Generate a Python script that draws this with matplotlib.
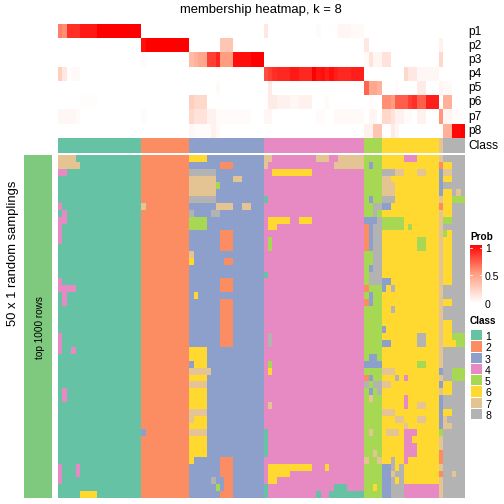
"""Membership heatmap, k = 8, with class annotation and random samplings."""

import matplotlib
matplotlib.use("Agg")
import matplotlib.pyplot as plt
import numpy as np
from matplotlib.colors import LinearSegmentedColormap, ListedColormap
from matplotlib.patches import Rectangle

plt.rcParams["font.family"] = ["Liberation Sans", "DejaVu Sans"]

W = 504
CLASS_COLORS = ["#66C2A5", "#FC8D62", "#8DA0CB", "#E78AC3",
                "#A6D854", "#FFD92F", "#E5C494", "#B3B3B3"]
CLASS_LABELS = ["1", "2", "3", "4", "5", "6", "7", "8"]
ROW_LABELS = ["p1", "p2", "p3", "p4", "p5", "p6", "p7", "p8"]
PROB_TICKS = [0, 0.5, 1]

# class of each column, same groups as the rows below
CLASS_ROW = ("1111111111111111111 22222222222 33333333333333333 "
             "44444444444444444444444 5555 6666666666666 7 88888")

# ── Membership probabilities, one list per row (columns grouped by class) ────
P1 = [.6, .55, .85, .85, .85, .92, .92, .92, .92, 1, 1, 1, 1, 1, 1, 1, 1, 1, 1,
      0, 0, 0, 0, 0, 0, 0, 0, 0, 0, 0,
      0, 0, 0, 0, 0, 0, 0, 0, 0, 0, 0, 0, 0, 0, 0, 0, 0,
      .12, 0, 0, 0, 0, 0, 0, 0, 0, 0, 0, 0, .02, 0, 0, .01, .01, .05, .05, .05, .03, .03, .03,
      0, 0, 0, 0,
      0, 0, 0, 0, 0, 0, 0, 0, 0, 0, 0, 0, 0,
      0,
      0, 0, 0, 0, 0]
P2 = [0, 0, 0, 0, 0, 0, 0, 0, 0, 0, 0, 0, 0, 0, 0, 0, 0, 0, 0,
      .95, 1, 1, 1, 1, 1, 1, 1, 1, 1, 1,
      0, 0, 0, 0, 0, 0, 0, .3, .3, .3, 0, 0, 0, 0, 0, 0, 0,
      0, 0, 0, 0, 0, 0, 0, 0, 0, 0, 0, 0, 0, 0, 0, 0, 0, 0, 0, 0, 0, 0, 0,
      .12, 0, 0, 0,
      0, 0, 0, 0, 0, 0, 0, 0, 0, 0, 0, 0, 0,
      .07,
      0, 0, 0, 0, 0]
P3 = [0, 0, 0, 0, 0, 0, 0, 0, 0, 0, 0, 0, 0, 0, 0, 0, 0, 0, 0,
      .02, 0, 0, 0, 0, 0, 0, 0, 0, 0, 0,
      .35, .4, .45, .45, .8, .8, .88, .5, .5, .5, .95, .95, .95, .95, 1, 1, 1,
      0, 0, 0, 0, 0, 0, 0, 0, 0, 0, 0, 0, 0, 0, 0, 0, 0, 0, 0, 0, 0, 0, 0,
      .03, .15, .05, .05,
      .15, .15, 0, 0, 0, 0, 0, 0, 0, 0, 0, 0, 0,
      .2,
      0, 0, 0, 0, 0]
P4 = [.25, .12, .01, .03, .03, 0, 0, 0, 0, 0, 0, 0, 0, 0, 0, 0, 0, 0, 0,
      0, 0, 0, 0, 0, 0, 0, 0, 0, 0, 0,
      0, 0, 0, 0, 0, 0, 0, 0, 0, 0, 0, 0, 0, 0, 0, 0, 0,
      .75, .8, .85, .87, .87, .87, .92, .92, .87, .87, .87, 1, .93, .95, .9, .95, .9, .87, .87, .87, .9, .9, .9,
      0, 0, 0, 0,
      0, 0, 0, 0, 0, .2, .12, .12, .04, .04, .04, .04, .04,
      0,
      0, 0, 0, 0, 0]
P5 = [0, 0, 0, 0, 0, 0, 0, 0, 0, 0, 0, 0, 0, 0, 0, 0, 0, 0, 0,
      0, 0, 0, 0, 0, 0, 0, 0, 0, 0, 0,
      0, 0, 0, 0, 0, 0, .03, 0, 0, 0, 0, 0, 0, 0, 0, 0, 0,
      0, .1, 0, 0, 0, 0, 0, 0, 0, 0, 0, 0, 0, 0, 0, 0, 0, 0, 0, 0, 0, 0, 0,
      .68, .45, .45, .4,
      0, 0, 0, .02, 0, 0, 0, 0, .1, .1, 0, 0, 0,
      .05,
      .03, .03, 0, 0, 0]
P6 = [0, 0, 0, 0, 0, .015, .015, .015, .015, 0, 0, 0, 0, 0, 0, 0, 0, 0, 0,
      0, 0, 0, 0, 0, 0, 0, 0, 0, 0, 0,
      .25, .2, .2, .2, 0, 0, 0, 0, 0, 0, 0, 0, 0, 0, 0, 0, 0,
      .01, .1, .1, .07, .07, .07, .04, .04, .07, .07, .07, 0, 0, 0, .03, 0, 0, 0, 0, 0, 0, 0, 0,
      0, .02, .01, 0,
      .55, .55, .5, .7, .7, .7, .8, .85, .7, .7, .9, .9, .9,
      0,
      .4, .4, 0, 0, 0]
P7 = [.04, .04, .04, .04, .02, 0, 0, 0, 0, 0, 0, 0, 0, 0, 0, 0, 0, 0, 0,
      .02, 0, 0, 0, 0, 0, 0, 0, 0, 0, 0,
      .2, .15, .15, .15, .07, .07, .02, .02, .02, .02, .02, .02, .02, .02, 0, 0, 0,
      .04, .04, 0, 0, 0, 0, 0, 0, 0, 0, 0, 0, .02, .02, 0, 0, .03, .03, .03, .03, .03, .03, .03,
      0, .05, .05, 0,
      .2, .2, .15, .07, .07, .02, .02, 0, .07, .07, 0, 0, 0,
      .52,
      .05, .05, .02, .02, 0]
P8 = [0, 0, 0, 0, 0, 0, 0, 0, 0, 0, 0, 0, 0, 0, 0, 0, 0, 0, 0,
      0, 0, 0, 0, 0, 0, 0, 0, 0, 0, 0,
      .04, .02, .02, .02, .02, .07, .03, 0, 0, 0, 0, 0, 0, 0, 0, 0, 0,
      0, 0, 0, 0, 0, 0, 0, 0, 0, 0, 0, 0, 0, 0, 0, 0, 0, 0, 0, 0, 0, 0, 0,
      .07, .07, .3, .3,
      .01, .01, .1, .05, 0, 0, 0, 0, 0, 0, 0, 0, 0,
      0,
      .4, .4, .97, .97, 1]

# ── Class of each sampling (50 rows), columns grouped by class ───────────────
SAMPLINGS = [
    "7777111111111111111 22222222222 66663333333333333 77444444444477744777777 5555 6666644466666 7 88888",
    "7777711111111111111 22222222222 33333332223333333 74444444444444447777777 5355 6666666666666 2 66888",
    "4411111111111111111 22222222222 88888833333333333 44666666666444444444444 5555 8887766677666 3 77888",
    "1111111111111111111 22222222222 77777733337733333 44444444444444444444444 5555 7766666666666 3 66888",
    "1111111111111111111 22222222222 77777753333333333 44444444444444444444444 5555 7776666666666 3 88888",
    "1111111111111111111 22222222222 77777733333333333 44444444444444444444444 5555 7776666666666 3 66878",
    "1111111111111111111 22222222222 88888833333333333 14444444444444444444444 5355 8886666666666 7 66555",
    "4111111111111111111 72222222222 33333377773377333 44444444444444444444444 5588 3366666666666 2 66888",
    "1411111111111111111 22222222222 83333883333333333 44444444444444444444444 5585 6666666666666 7 66888",
    "4411111111111111111 22222222222 55553333333333333 46666644666444444444444 3338 5555566666666 7 55888",
    "4111111111111111111 22222222222 55553333333333333 46644444444444444444444 2388 5555565666666 7 88888",
    "4111111111111111111 22222222222 33333332223333333 44444444444444444444444 2388 6666666666666 7 56888",
    "4111111111111111111 22222222222 33333332223333333 45444444444444444444444 2388 6666666655666 7 66888",
    "1111111111111111111 22222222222 33333332223333333 45444444444444444444444 2388 6666666655666 7 66888",
    "1111111111111111111 22222222222 73333333333333333 44444444444444444444444 5588 6666666666666 7 66888",
    "1111111111111111111 22222222222 63333333223333333 44444444444444444444444 5588 6666666666666 7 66888",
    "1111111111111111111 22222222222 33333333333333333 44444444444444444444444 5388 6666666666666 7 66888",
    "1111111111111111111 22222222222 33333333333333333 14444444444444444444444 5888 6666666666666 7 66888",
    "4111111111111111111 22222222222 33333332223333333 44444444444444444444444 5888 3366666666666 7 66888",
    "4444111111111111111 22222222222 33333332223333333 44444444444444444444444 2555 3686666666666 7 88888",
    "1411111111111111111 22222222222 36333333333333333 44444444444444444444444 5355 6666666666666 7 88888",
    "1411111111111111111 22222222222 33333332223333333 44444444444444444444444 2355 6666666666666 7 66888",
    "1111111111111111111 22222222222 33333332223333333 44444444444444444444444 5555 6686666666666 7 88888",
    "1111111111111111111 22222222222 33333332223333333 44444444444444444444444 5555 6666666666666 7 88888",
    "1111111111111111111 22222222222 33333332223333333 44444444444444444444444 5555 6666666666666 7 66888",
    "1111111111111111111 22222222222 33333332223333333 44444444444444444444444 5555 3666666666666 7 66888",
    "4111111111111111111 22222222222 33333332223333333 48444444444444444444444 5555 6666666688666 7 66555",
    "4111111111111111111 22222222222 33333332223333333 48444444444444444444444 5555 3366666688666 7 66655",
    "4114111111111111111 22222222222 66663333333333333 44444444444444444444444 5555 6666666666666 7 88888",
    "1111111111111111111 22222222222 66663333333333333 44444444444444444444444 5335 6666666666666 7 88888",
    "1111111111111111111 22222222222 36663333333333333 45444444444444444444444 3333 6666666655666 7 88888",
    "1111111111111111111 22222222222 77777333333333333 46444444444444444444444 5555 7776666666666 3 88555",
    "1111111111111111111 22222222222 66663333333333333 44444444444444444444444 2355 6668646666666 7 88555",
    "1111111111111111111 22222222222 77773333333333333 44444444444444444444444 8588 7766666666666 3 66888",
    "1411111111111111111 22222222222 66663333333333333 44444444444444444444444 5358 6666666666666 7 66888",
    "1411111111111111111 22222222222 66663333333333333 44444444444444444444444 5755 6666646666666 3 88888",
    "1111111111111111111 22222222222 66663333333333333 47444444444444444444444 5555 6666646677666 3 88888",
    "1111111111111111111 22222222222 77773333333333333 44444444444444444444444 5555 7776666666666 3 66888",
    "1111111111111111111 22222222222 76663333333333333 44444444444444444444444 5555 6667766677666 3 78888",
    "1111111111111111111 22222222222 66663333333333333 44444444444444444444444 5555 6666676666666 3 77888",
    "1111111111111111111 32222222222 77773333333333333 14444444444444444444444 5755 6777644466666 5 88888",
    "1111111111111111111 22222222222 66663333333333333 14444444444444444444444 5555 6666644666666 7 88888",
    "1111111111111111111 22222222222 66663333333333333 14444444444444444444444 5555 6666644466666 7 88888",
    "1111111111111111111 22222222222 66663333333333333 14444444444444444444444 5575 6666644466666 2 88888",
    "1111111111111111111 22222222222 63333332223333333 44444444444444444444444 7557 6686646666666 2 88888",
    "4111411111111111111 22222222222 33333332223333333 46666666666444644444444 5555 3386866666666 7 88888",
    "4111411111111111111 22222222222 33333332223333333 46666644444444444444444 5555 3378866666666 2 88788",
    "4111111111111111111 22222222222 33333833223333333 46644444444444444444444 5555 3386866666666 7 88888",
    "1111111111111111111 22222222222 33333353223333333 14444444444444441114444 5565 3388844444444 7 88888",
    "1111166661111111111 22222222222 33333332223333333 14444444444414411111111 5555 3388844444444 7 88888",
]


def digits(row):
    return [int(ch) - 1 for ch in row.replace(" ", "")]


def px_axes(x0, y0, x1, y1):
    # axes from pixel box, y counted from the top of the picture
    return fig.add_axes([x0 / W, 1 - y1 / W, (x1 - x0) / W, (y1 - y0) / W])


class_cmap = ListedColormap(CLASS_COLORS)
prob_cmap = LinearSegmentedColormap.from_list("prob", ["#FFFFFF", "#FF9E81", "#FF0000"])

prob = np.array([P1, P2, P3, P4, P5, P6, P7, P8])
samples = np.array([digits(r) for r in SAMPLINGS])
class_row = np.array([digits(CLASS_ROW)])

fig = plt.figure(figsize=(7, 7), dpi=72)

# ── Heatmaps ─────────────────────────────────────────────────────────────────
ax = px_axes(58, 24, 465, 138)
ax.imshow(prob, cmap=prob_cmap, vmin=0, vmax=1, aspect="auto", interpolation="nearest")
ax.axis("off")

ax = px_axes(58, 138, 465, 153)
ax.imshow(class_row, cmap=class_cmap, vmin=0, vmax=7, aspect="auto", interpolation="nearest")
ax.axis("off")

ax = px_axes(58, 155, 465, 498)
ax.imshow(samples, cmap=class_cmap, vmin=0, vmax=7, aspect="auto", interpolation="nearest")
ax.axis("off")

# ── Text, side bar and legends in pixel coordinates ──────────────────────────
ov = fig.add_axes([0, 0, 1, 1], zorder=-1)
ov.set_xlim(0, W)
ov.set_ylim(W, 0)
ov.axis("off")

ov.text(261, 10, "membership heatmap, k = 8", fontsize=13, ha="center", va="center")
ov.text(13.5, 253.5, "50 x 1 random samplings", fontsize=13, rotation=90, ha="center", va="center")
ov.add_patch(Rectangle((24, 155), 28, 343, color="#7FC97F", lw=0))
ov.text(40, 328, "top 1000 rows", fontsize=10, rotation=90, ha="center", va="center")

for i, label in enumerate(ROW_LABELS):
    ov.text(468, 32 + 14.1 * i, label, fontsize=12, ha="left", va="center")
ov.text(468, 146, "Class", fontsize=12, ha="left", va="center")

ov.text(470, 237, "Prob", fontsize=10, fontweight="bold", ha="left", va="center")
ov.text(470, 321, "Class", fontsize=10, fontweight="bold", ha="left", va="center")

for tick in PROB_TICKS:
    y = 304.5 - 55 * tick
    ov.text(485, y, f"{tick:g}", fontsize=10.5, ha="left", va="center")

for i, label in enumerate(CLASS_LABELS):
    top = 330 + 11.27 * i
    ov.add_patch(Rectangle((470.7, top), 11, 10.4, color=CLASS_COLORS[i], lw=0))
    ov.text(485, top + 7, label, fontsize=10.5, ha="left", va="center")

cax = px_axes(470, 245, 482, 303)
cax.imshow(np.linspace(1, 0, 256)[:, None], cmap=prob_cmap, vmin=0, vmax=1,
           aspect="auto", extent=[0, 1, 0, 1.05])
for tick in PROB_TICKS:
    cax.plot([0, 0.2], [tick, tick], color="white", lw=0.8)
    cax.plot([0.8, 1], [tick, tick], color="white", lw=0.8)
cax.set_xlim(0, 1)
cax.set_ylim(0, 1.05)
cax.axis("off")

plt.savefig("out.png", dpi=72)
